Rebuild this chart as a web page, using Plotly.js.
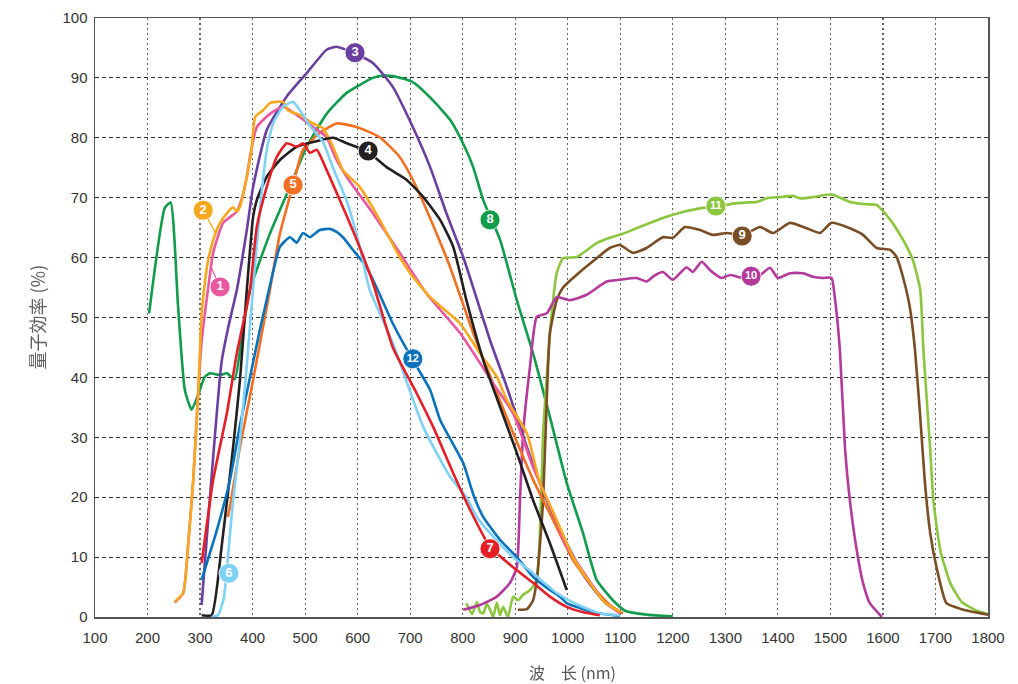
<!DOCTYPE html>
<html>
<head>
<meta charset="utf-8">
<script src="https://cdn.plot.ly/plotly-3.0.1.min.js"></script>
<style>
html,body{margin:0;padding:0;background:#fff;}
#chart{width:1018px;height:684px;}
#chart .annotation{filter:grayscale(100%);}
</style>
</head>
<body>
<div id="chart"></div>
<script>
// ---- data (wavelength nm, quantum efficiency %) ----
const s1x = [252, 268, 277, 287, 297, 303, 315, 325, 344, 370, 380, 389, 395, 408, 433, 458, 484, 515, 541, 557, 579, 629, 680, 731, 795, 858, 896, 934, 972, 998, 1036, 1070, 1100];
const s1y = [2.4, 4, 11.7, 22.9, 38.4, 46, 54.6, 60.8, 65.8, 67.7, 70, 73.5, 76.8, 81.8, 84, 85.2, 83.8, 81.8, 80.1, 76.8, 73.5, 67.4, 60.8, 54, 47.4, 39, 34, 25, 17.4, 11.7, 6.7, 2.5, 0.6];

const s2x = [252, 268, 277, 287, 297, 303, 313, 325, 338, 353, 363, 370, 376, 389, 398, 405, 420, 433, 458, 467, 490, 515, 534, 553, 572, 604, 642, 680, 700, 738, 795, 833, 865, 884, 922, 947, 979, 1010, 1042, 1070, 1100];
const s2y = [2.6, 4, 11.7, 22.9, 38.4, 50.7, 58.4, 62.9, 65.8, 67.6, 68.4, 67.7, 68.5, 73.5, 78, 83.5, 84.6, 85.8, 86, 84.6, 83.8, 82.4, 81.6, 78.5, 74.6, 71.8, 66.3, 60.1, 57.4, 53.4, 49, 44, 40.1, 36.2, 30.7, 22.4, 16.2, 10, 5.7, 2.5, 0.8];

const s3x = [303, 341, 354, 370, 389, 401, 427, 465, 503, 541, 560, 591, 629, 667, 705, 738, 769, 801, 820, 852, 884, 922, 960, 998, 1036, 1070, 1100];
const s3y = [2, 42.6, 48.5, 54.6, 64.6, 71.8, 81.3, 86.9, 90.8, 94.7, 95.2, 94.2, 92.5, 88.5, 81.8, 75.1, 67.4, 60.1, 55, 46.2, 38.4, 28.4, 19.5, 12.3, 6.2, 2.5, 0.8];

const s4x = [303, 322, 341, 363, 376, 389, 401, 408, 427, 452, 484, 515, 553, 579, 617, 655, 693, 725, 757, 782, 807, 839, 871, 903, 934, 966, 998];
const s4y = [0.3, 0.3, 11.7, 28.4, 39.6, 54.6, 66.8, 69.6, 73.5, 76.3, 78.5, 79.3, 80, 79.1, 77.8, 75.1, 73, 70.1, 66.3, 61.8, 52.9, 42.9, 35.1, 27.4, 19.5, 12.3, 4.5];

const s5x = [353, 358, 376, 401, 433, 452, 477, 496, 528, 560, 598, 642, 680, 705, 731, 776, 820, 865, 896, 934, 972, 1010, 1048, 1080, 1105];
const s5y = [16.7, 19, 28.4, 39.6, 54.6, 64, 72.1, 78, 80.8, 82.4, 81.8, 80.1, 76.8, 73, 68, 58.4, 47.4, 37.4, 30.7, 22.9, 16.2, 9.5, 5, 2, 0.6];

const s6x = [322, 334, 345, 353, 363, 376, 389, 401, 414, 427, 439, 458, 477, 490, 509, 534, 553, 579, 604, 623, 667, 725, 776, 807, 827, 858, 896, 934, 979, 1020, 1061, 1099];
const s6y = [0, 0.3, 3, 10, 19.5, 29.5, 42, 55, 68, 78, 82.4, 85.2, 86, 84.6, 82, 79.3, 75, 69.5, 61.8, 54.6, 45.7, 31.7, 23.4, 20, 16.7, 13.4, 10, 7.3, 4, 2, 0.6, 0.3];

const s7x = [303, 325, 351, 370, 395, 408, 427, 446, 465, 484, 496, 509, 522, 541, 566, 598, 629, 667, 712, 744, 782, 814, 852, 896, 934, 966, 998, 1030, 1061];
const s7y = [9, 22.9, 34, 44, 54.6, 65.1, 71.8, 76.8, 79.1, 78.5, 79.1, 77.5, 78, 74.6, 69.6, 63, 55.8, 45, 37.4, 31.7, 24, 17.9, 11.7, 8.3, 5.7, 3.4, 1.7, 0.8, 0.3];

const s8x = [203, 233, 244, 258, 271, 284, 296, 309, 319, 338, 351, 366, 380, 395, 433, 471, 503, 541, 579, 629, 650, 667, 705, 743, 776, 801, 820, 839, 871, 903, 934, 966, 998, 1029, 1055, 1086, 1110, 1150, 1200];
const s8y = [50.7, 68.3, 69.2, 52, 37.9, 34.6, 37, 40.1, 40.7, 40.4, 40.7, 39.7, 47, 54.6, 64, 71.8, 78.5, 84, 87.5, 90, 90.4, 90.3, 89.3, 86.3, 83, 79, 75.1, 69.6, 63, 52.9, 44, 33.4, 22.4, 14, 6.2, 2.8, 1, 0.4, 0.1];

const s9x = [905, 922, 934, 941, 947, 953, 960, 966, 979, 991, 1023, 1055, 1080, 1099, 1124, 1150, 1181, 1200, 1223, 1252, 1276, 1302, 1334, 1366, 1391, 1423, 1455, 1480, 1502, 1537, 1562, 1588, 1614, 1626, 1638, 1651, 1661, 1671, 1680, 1690, 1702, 1721, 1750, 1780, 1800];
const s9y = [1.2, 1.3, 2.8, 6.2, 12, 19.5, 36.2, 47.4, 52.9, 55, 57.6, 59.9, 61.6, 62.1, 60.8, 61.6, 63.4, 63.3, 65.1, 64.6, 63.8, 64.1, 63.8, 65.1, 64.1, 65.8, 64.9, 64.1, 65.8, 64.9, 63.8, 61.6, 61.3, 60.1, 56.8, 51.8, 44.6, 33.4, 22.4, 14, 8.3, 2.3, 1.3, 0.7, 0.4];

const s10x = [801, 833, 865, 890, 903, 909, 915, 928, 941, 960, 979, 1004, 1036, 1074, 1099, 1131, 1150, 1165, 1181, 1200, 1226, 1238, 1255, 1271, 1293, 1309, 1334, 1366, 1385, 1400, 1423, 1448, 1467, 1486, 1502, 1509, 1518, 1528, 1537, 1550, 1562, 1575, 1598];
const s10y = [1.2, 2, 3.4, 5.7, 8.3, 19.5, 30.7, 41.7, 50.1, 50.7, 53.4, 52.9, 53.8, 56, 56.3, 56.6, 56, 57, 57.6, 56.3, 58.4, 57.6, 59.3, 57.9, 56.6, 57.1, 56.6, 57.1, 58.3, 56.6, 57.4, 57.4, 56.8, 56.6, 56.6, 52.9, 44.6, 27.9, 19.5, 11.2, 5.7, 2.3, 0];

const s11x = [807, 818, 827, 833, 839, 846, 852, 858, 865, 871, 877, 886, 896, 905, 915, 928, 941, 947, 953, 960, 966, 979, 991, 1017, 1055, 1080, 1099, 1137, 1181, 1219, 1257, 1283, 1321, 1360, 1379, 1404, 1429, 1442, 1467, 1493, 1505, 1537, 1569, 1588, 1614, 1638, 1657, 1671, 1677, 1690, 1696, 1709, 1728, 1750, 1780, 1800];
const s11y = [2.3, 0.5, 2.5, 0.8, 0.6, 2.2, 1.2, 0, 2.4, 0.3, 1.7, 0, 3.4, 2.8, 3.7, 4.5, 6.2, 14, 30.7, 40, 47.4, 57.4, 59.9, 60.1, 62.4, 63.3, 63.8, 65.1, 66.6, 67.6, 68.3, 68.5, 69.1, 69.3, 69.9, 70.1, 70.3, 69.9, 70.1, 70.5, 70.5, 69.3, 68.9, 68.8, 66.3, 63, 59.6, 54.6, 44.6, 27.9, 19.5, 11.2, 5.7, 2.5, 1, 0.5];

const s12x = [303, 332, 357, 376, 395, 414, 427, 440, 452, 471, 484, 496, 509, 528, 547, 560, 572, 591, 617, 636, 667, 685, 705, 738, 757, 801, 820, 839, 871, 903, 934, 966, 985, 998, 1030, 1061, 1099];
const s12y = [6.2, 14.5, 22.9, 32, 40, 48, 53, 58, 61.8, 63.4, 62.5, 64.1, 63.4, 64.6, 64.8, 64.3, 63.4, 61.3, 58.4, 55, 49, 46, 42.9, 37.9, 32.9, 25.7, 20.5, 16.7, 12.9, 10, 6.7, 4.5, 3.4, 2.3, 1.3, 0.6, 0.2];

const seriesNames = ['1','2','3','4','5','6','7','8','9','10','11','12'];
const seriesColors = ['#ea579e','#f8a81c','#6b3fa0','#231f20','#f26f22','#7fd1f5','#e41f28','#109c4b','#7a4e24','#b3399b','#8cc63f','#0a72ba'];

// label markers (number badges)
const labelX = [338, 306, 595, 620, 477, 355, 852, 852, 1332, 1349, 1282, 705];
const labelY = [55.1, 67.9, 94.2, 77.8, 72.1, 7.3, 11.4, 66.3, 63.6, 56.9, 68.6, 43.1];
// leader lines for badges 1 and 2
const leader1x = [338, 322]; const leader1y = [55.1, 58.2];
const leader2x = [306, 330]; const leader2y = [67.9, 64.0];

const xTickVals = [100,200,300,400,500,600,700,800,900,1000,1100,1200,1300,1400,1500,1600,1700,1800];
const yTickVals = [0,10,20,30,40,50,60,70,80,90,100];

const xTitle = '波\u3000长 (nm)';
const yTitle = '量子効率 (%)';

const xs = [s1x,s2x,s3x,s4x,s5x,s6x,s7x,s8x,s9x,s10x,s11x,s12x];
const ys = [s1y,s2y,s3y,s4y,s5y,s6y,s7y,s8y,s9y,s10y,s11y,s12y];

const order = [7,10,8,9,2,4,0,1,3,11,5,6];
const traces = [];
order.forEach(i => {
  traces.push({
    x: xs[i], y: ys[i], type: 'scatter', mode: 'lines',
    line: {color: seriesColors[i], width: 2.6, shape: 'spline', smoothing: 0.5},
    name: seriesNames[i], hoverinfo: 'x+y+name'
  });
});
traces.push({x: leader1x, y: leader1y, mode: 'lines', type: 'scatter', line: {color: seriesColors[0], width: 1.2}, hoverinfo: 'skip'});
traces.push({x: leader2x, y: leader2y, mode: 'lines', type: 'scatter', line: {color: seriesColors[1], width: 1.2}, hoverinfo: 'skip'});
traces.push({
  x: labelX, y: labelY, type: 'scatter', mode: 'markers+text',
  text: seriesNames, textposition: 'middle center',
  textfont: {family: 'Liberation Sans, Arial, sans-serif', size: seriesNames.map(n => n.length > 1 ? 11 : 13), color: '#ffffff', weight: 'bold'},
  marker: {size: 20, color: seriesColors, line: {color: '#ffffff', width: 0.8}},
  hoverinfo: 'skip', cliponaxis: false
});

const layout = {
  width: 1018, height: 684,
  margin: {l: 95, r: 30, t: 18, b: 67},
  paper_bgcolor: '#ffffff', plot_bgcolor: '#ffffff',
  showlegend: false,
  font: {family: 'Liberation Sans, Arial, sans-serif', color: '#333'},
  xaxis: {
    range: [100, 1800], tickvals: xTickVals, ticktext: xTickVals.map(String),
    showgrid: true, gridcolor: '#666', griddash: '2px,3px', gridwidth: 1.2,
    showline: true, linecolor: '#555', linewidth: 1.5, mirror: true,
    zeroline: false, ticks: 'outside', ticklen: 6, tickcolor: 'rgba(0,0,0,0)',
    tickfont: {size: 15, color: '#333'}
  },
  yaxis: {
    range: [0, 100], tickvals: yTickVals, ticktext: yTickVals.map(String),
    showgrid: true, gridcolor: '#333', griddash: '4px,3px', gridwidth: 1.1,
    showline: true, linecolor: '#555', linewidth: 1.5, mirror: true,
    zeroline: false, ticks: 'outside', ticklen: 3, tickcolor: 'rgba(0,0,0,0)',
    tickfont: {size: 15, color: '#333'}
  },
  annotations: [{
    text: xTitle, xref: 'paper', yref: 'paper', x: 0.535, y: -0.092,
    xanchor: 'center', yanchor: 'middle', showarrow: false,
    font: {size: 16, color: 'rgb(85,85,85)', family: 'Noto Sans CJK SC, Liberation Sans, sans-serif'}
  }, {
    text: yTitle, xref: 'paper', yref: 'paper', x: -0.066, y: 0.5,
    xanchor: 'center', yanchor: 'middle', textangle: -90, showarrow: false,
    font: {size: 18, color: 'rgb(96,96,96)', family: 'Noto Sans CJK JP, Liberation Sans, sans-serif'}
  }]
};

Plotly.newPlot('chart', traces, layout, {displayModeBar: false, staticPlot: true});
</script>
</body>
</html>
